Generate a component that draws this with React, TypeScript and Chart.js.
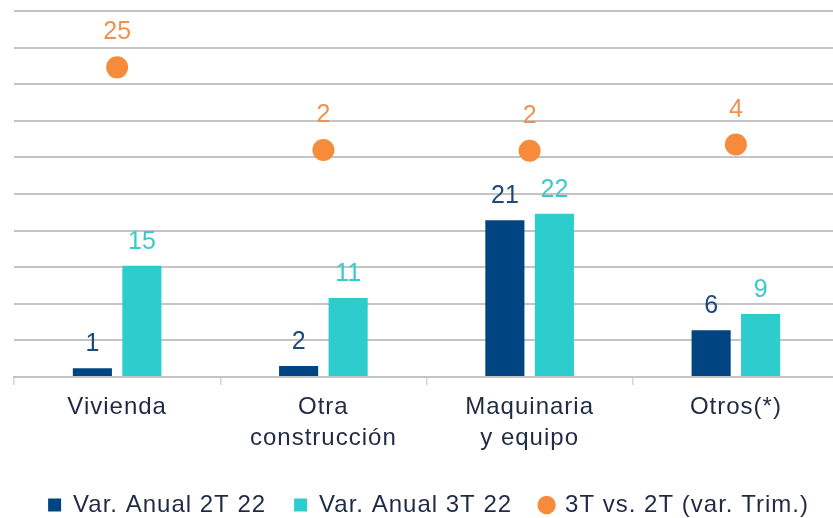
import React, { useEffect, useRef } from 'react';
import { Chart, registerables } from 'chart.js';

Chart.register(...registerables);

const FONT = "'Liberation Sans', Arial, Helvetica, sans-serif";

// ---- data ----
const categories: string[][] = [['Vivienda'], ['Otra', 'construcción'], ['Maquinaria', 'y equipo'], ['Otros(*)']];
const seriesNames = ['Var. Anual 2T 22', 'Var. Anual 3T 22', '3T vs. 2T (var. Trim.)'];
const anual2T = [1.2, 1.5, 21.4, 6.4];
const anual3T = [15.2, 10.8, 22.3, 8.6];
const trimestral = [24.6, 2.0, 1.8, 3.5];

// ---- styles ----
const NAVY = '#004481';
const TEAL = '#2DCCCD';
const ORANGE = '#F78B3C';
const LABEL_COLORS = ['#1B4A7C', '#3CC9C9', '#EE9250'];
const TEXT = '#1F2A44';
const GRID = '#C4C4C4';

const spacingPlugin = {
  id: 'spacingPlugin',
  beforeUpdate(chart: any) {
    chart.ctx.letterSpacing = '1px';
  },
  beforeDraw(chart: any) {
    chart.ctx.letterSpacing = '1px';
  },
};

const valueLabels = {
  id: 'valueLabels',
  afterDatasetsDraw(chart: any) {
    const ctx = chart.ctx;
    ctx.save();
    ctx.letterSpacing = '0px';
    ctx.font = `25px ${FONT}`;
    ctx.textAlign = 'center';
    ctx.textBaseline = 'alphabetic';
    chart.data.datasets.forEach((ds: any, i: number) => {
      const meta = chart.getDatasetMeta(i);
      if (meta.hidden) return;
      const off = meta.type === 'bar' ? 17 : 28;
      ctx.fillStyle = LABEL_COLORS[i];
      meta.data.forEach((el: any, j: number) => {
        const v = ds.data[j] as number;
        ctx.fillText(String(Math.round(v)), el.x, el.y - off);
      });
    });
    ctx.restore();
  },
};

export default function App() {
  const ref = useRef<HTMLCanvasElement | null>(null);

  useEffect(() => {
    if (!ref.current) return;
    const chart = new Chart(ref.current, {
      type: 'bar',
      data: {
        labels: categories as any,
        datasets: [
          {
            type: 'bar',
            label: seriesNames[0],
            data: anual2T,
            backgroundColor: NAVY,
            borderWidth: 0,
            categoryPercentage: 0.48,
            barPercentage: 0.79,
            yAxisID: 'y',
          },
          {
            type: 'bar',
            label: seriesNames[1],
            data: anual3T,
            backgroundColor: TEAL,
            borderWidth: 0,
            categoryPercentage: 0.48,
            barPercentage: 0.79,
            yAxisID: 'y',
          },
          {
            type: 'line',
            label: seriesNames[2],
            data: trimestral,
            showLine: false,
            borderColor: ORANGE,
            backgroundColor: ORANGE,
            pointBackgroundColor: ORANGE,
            pointBorderWidth: 0,
            pointRadius: 11,
            pointHoverRadius: 11,
            pointStyle: 'circle',
            yAxisID: 'y1',
            clip: false,
          } as any,
        ],
      },
      options: {
        responsive: false,
        animation: false,
        events: [],
        layout: { padding: { top: 10, left: 14, right: 7, bottom: 0 } },
        plugins: {
          tooltip: { enabled: false },
          legend: {
            position: 'bottom',
            maxHeight: 53,
            labels: {
              usePointStyle: true,
              boxWidth: 13,
              boxHeight: 13,
              padding: 28,
              color: TEXT,
              font: { family: FONT, size: 24 },
              generateLabels: (c: any) => {
                const items = Chart.defaults.plugins.legend.labels.generateLabels(c);
                return items.map((it: any, i: number) => ({
                  ...it,
                  pointStyle: i < 2 ? 'rect' : 'circle',
                  lineWidth: 0,
                  strokeStyle: 'rgba(0,0,0,0)',
                }));
              },
            },
          },
        },
        scales: {
          x: {
            grid: {
              drawOnChartArea: false,
              drawTicks: true,
              tickLength: 8,
              offset: true,
              color: '#D6D6D6',
              lineWidth: 1.5,
            },
            border: { display: true, color: GRID, width: 2 },
            ticks: {
              font: { family: FONT, size: 24, lineHeight: 1.3 },
              color: TEXT,
              padding: 7,
              maxRotation: 0,
              autoSkip: false,
            },
            afterFit: (s: any) => {
              s.height = 88;
            },
          },
          y: {
            min: 0,
            max: 50,
            ticks: { stepSize: 5, display: false },
            grid: { color: GRID, lineWidth: 2, drawTicks: false },
            border: { display: false },
          },
          y1: {
            display: false,
            position: 'right',
            min: -60,
            max: 40,
            grid: { drawOnChartArea: false },
          },
        },
      } as any,
      plugins: [spacingPlugin, valueLabels],
    });
    return () => chart.destroy();
  }, []);

  return (
    <div
      style={{
        position: 'fixed',
        left: 0,
        top: 0,
        width: 833,
        height: 518,
        overflow: 'hidden',
        background: '#ffffff',
      }}
    >
      <canvas ref={ref} width={850} height={518} style={{ display: 'block' }} />
    </div>
  );
}
